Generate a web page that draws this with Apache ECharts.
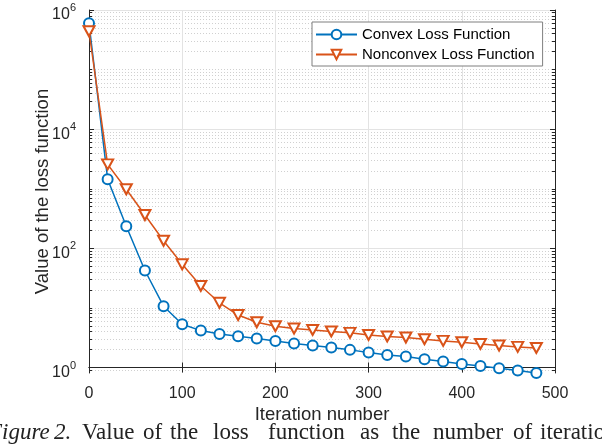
<!DOCTYPE html>
<html>
<head>
<meta charset="utf-8">
<script src="https://cdn.jsdelivr.net/npm/echarts@6/dist/echarts.min.js"></script>
<style>
  html, body { margin: 0; padding: 0; background: #fff; }
  #chart { width: 602px; height: 446px; }
</style>
</head>
<body>
<div id="chart"></div>
<script>
// data
var iterations = [0, 20, 40, 60, 80, 100, 120, 140, 160, 180, 200, 220, 240,
                  260, 280, 300, 320, 340, 360, 380, 400, 420, 440, 460, 480];
var convexLoss = [6.0e5, 1450, 235, 42.5, 10.7, 5.33, 4.17, 3.67, 3.36, 3.07, 2.80, 2.53, 2.34,
                  2.17, 1.98, 1.79, 1.63, 1.53, 1.38, 1.26, 1.15, 1.06, 0.97, 0.89, 0.81];
var nonconvexLoss = [4.4e5, 2570, 980, 363, 134, 54, 23.4, 12.2, 7.6, 5.75, 4.94, 4.51, 4.27,
                     4.03, 3.82, 3.52, 3.32, 3.19, 2.99, 2.80, 2.66, 2.49, 2.34, 2.22, 2.13];
var xTicks = [0, 100, 200, 300, 400, 500];
var yMajorExp = [0, 2, 4, 6];   // 10^0 ... 10^6
var yMin = 0.81, yMax = 1e6;

// log axis done by hand so the minor grid sits at 2..9 x 10^n like matlab
var lo = Math.log10(yMin), hi = Math.log10(yMax);
var minorPos = [];
for (var e = -1; e < 6; e++) {
    for (var k = 1; k < 10; k++) {
        var v = e + Math.log10(k);
        if (k === 1 && e % 2 === 0) continue;
        if (v > lo && v < hi) minorPos.push(v);
    }
}

function toLog(vals) {
    return iterations.map(function (x, i) { return [x, Math.log10(vals[i])]; });
}

var axisColor = '#262626';
var font = 'Liberation Sans';
var capFont = '23px "Liberation Serif"';
var capItalic = 'italic 23px "Liberation Serif"';

var myChart = echarts.init(document.getElementById('chart'));

var option = {
    animation: false,
    textStyle: { fontFamily: font },
    grid: { left: 89, right: 47, top: 10, bottom: 73, containLabel: false },
    legend: {
        orient: 'vertical',
        left: 312, top: 22,
        padding: [5, 8, 4, 3],
        itemWidth: 41, itemHeight: 12, itemGap: 5,
        backgroundColor: '#fff',
        borderColor: '#7f7f7f', borderWidth: 1,
        textStyle: { fontSize: 15, color: '#000', fontFamily: font },
        data: ['Convex Loss Function', 'Nonconvex Loss Function']
    },
    xAxis: [{
        type: 'value', position: 'bottom',
        min: 0, max: 500, interval: 100,
        name: 'Iteration number', nameLocation: 'middle', nameGap: 32,
        nameMoveOverlap: false,
        nameTextStyle: { fontSize: 18.5, color: axisColor, fontFamily: font },
        axisLine: { lineStyle: { color: axisColor, width: 1 } },
        axisTick: { inside: true, length: 5, lineStyle: { color: axisColor } },
        axisLabel: { fontSize: 16, color: axisColor, margin: 13,
            customValues: xTicks },
        splitLine: { show: true, lineStyle: { color: '#e3e3e3', width: 1 } }
    }, {
        type: 'value', position: 'top',
        min: 0, max: 500, interval: 100,
        axisLine: { lineStyle: { color: axisColor, width: 1 } },
        axisTick: { inside: true, length: 5, lineStyle: { color: axisColor } },
        axisLabel: { show: false },
        splitLine: { show: false }
    }],
    yAxis: [{
        type: 'value', position: 'left',
        min: lo, max: hi,
        name: 'Value of the loss function', nameLocation: 'middle', nameGap: 37,
        nameMoveOverlap: false,
        nameTextStyle: { fontSize: 18.5, color: axisColor, fontFamily: font },
        axisLine: { show: true, lineStyle: { color: axisColor, width: 1 } },
        axisTick: { inside: true, length: 5, customValues: yMajorExp,
            lineStyle: { color: axisColor } },
        axisLabel: {
            customValues: yMajorExp, margin: 13, color: axisColor,
            formatter: function (v) { return '{b|10}{s|' + Math.round(v) + '}'; },
            rich: {
                b: { fontSize: 16, color: axisColor, fontFamily: font, padding: [10, 0, 0, 0] },
                s: { fontSize: 11, color: axisColor, fontFamily: font, padding: [0, 0, 4, 0] }
            }
        },
        splitLine: { show: true, lineStyle: { color: '#e3e3e3', width: 1 } }
    }, {
        type: 'value', position: 'left',
        min: lo, max: hi,
        axisLine: { show: false },
        axisTick: { inside: true, length: 3, customValues: minorPos,
            lineStyle: { color: axisColor } },
        axisLabel: { show: false },
        splitLine: { show: true, lineStyle: { color: '#d0d0d0', width: 1, type: [1, 2] } }
    }, {
        type: 'value', position: 'right',
        min: lo, max: hi,
        axisLine: { show: true, lineStyle: { color: axisColor, width: 1 } },
        axisTick: { inside: true, length: 5, customValues: yMajorExp,
            lineStyle: { color: axisColor } },
        axisLabel: { show: false },
        splitLine: { show: false }
    }, {
        type: 'value', position: 'right',
        min: lo, max: hi,
        axisLine: { show: false },
        axisTick: { inside: true, length: 3, customValues: minorPos,
            lineStyle: { color: axisColor } },
        axisLabel: { show: false },
        splitLine: { show: false }
    }],
    series: [{
        name: 'Convex Loss Function',
        type: 'line',
        data: toLog(convexLoss),
        symbol: 'emptyCircle', symbolSize: 10,
        lineStyle: { color: '#0072BD', width: 1.5 },
        itemStyle: { color: '#0072BD', borderWidth: 1.5 },
        z: 3
    }, {
        name: 'Nonconvex Loss Function',
        type: 'line',
        data: toLog(nonconvexLoss),
        symbol: 'emptyTriangle', symbolSize: [11, 10], symbolRotate: 180,
        lineStyle: { color: '#D95319', width: 1.5 },
        itemStyle: { color: '#D95319', borderWidth: 1.5 },
        z: 4
    }],
    graphic: [
        { type: 'text', left: -12, top: 421, style: { text: 'Figure', font: capItalic, fill: '#222' } },
        { type: 'text', left: 54, top: 421, style: { text: '2.', font: capItalic, fill: '#222' } },
        { type: 'text', left: 82, top: 421, style: { text: 'Value', font: capFont, fill: '#222' } },
        { type: 'text', left: 143, top: 421, style: { text: 'of', font: capFont, fill: '#222' } },
        { type: 'text', left: 170, top: 421, style: { text: 'the', font: capFont, fill: '#222' } },
        { type: 'text', left: 213, top: 421, style: { text: 'loss', font: capFont, fill: '#222' } },
        { type: 'text', left: 268, top: 421, style: { text: 'function', font: capFont, fill: '#222' } },
        { type: 'text', left: 360, top: 421, style: { text: 'as', font: capFont, fill: '#222' } },
        { type: 'text', left: 392, top: 421, style: { text: 'the', font: capFont, fill: '#222' } },
        { type: 'text', left: 433, top: 421, style: { text: 'number', font: capFont, fill: '#222' } },
        { type: 'text', left: 513, top: 421, style: { text: 'of', font: capFont, fill: '#222' } },
        { type: 'text', left: 540, top: 421, style: { text: 'iterations', font: capFont, fill: '#222' } }
    ]
};

myChart.setOption(option);
</script>
</body>
</html>
